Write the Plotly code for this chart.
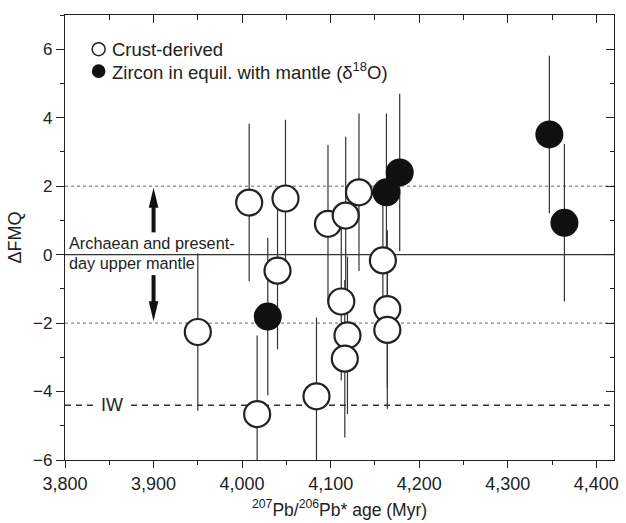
import plotly.graph_objects as go

# ---------------- data ----------------
crust_age = [4008, 4049, 4040, 3950, 4017, 4084, 4097, 4117, 4132,
             4159, 4112, 4119, 4116, 4164, 4164]
crust_fmq = [1.52, 1.64, -0.47, -2.26, -4.66, -4.14, 0.90, 1.14, 1.82,
             -0.17, -1.37, -2.36, -3.04, -1.59, -2.20]
crust_err = [2.3] * 15

mantle_age = [4029, 4163, 4178, 4347, 4364]
mantle_fmq = [-1.81, 1.82, 2.40, 3.51, 0.93]
mantle_err = [2.3] * 5

x_ticks = [3800, 3900, 4000, 4100, 4200, 4300, 4400]
x_tick_labels = ["3,800", "3,900", "4,000", "4,100", "4,200", "4,300", "4,400"]
y_ticks = [-6, -4, -2, 0, 2, 4, 6]
x_range = [3800, 4420]
y_range = [-6, 7]

ref_levels = [2, -2]        # dotted band of present-day mantle
mantle_level = 0
iw_level = -4.4
arrow_x = 3900
arrow_up = [0.65, 1.95]
arrow_down = [-0.6, -1.95]

INK = "#222222"
FONT = "Liberation Sans, Arial, sans-serif"

fig = go.Figure()

# error bars (drawn first, under the circles)
all_age = crust_age + mantle_age
all_fmq = crust_fmq + mantle_fmq
all_err = crust_err + mantle_err
fig.add_trace(go.Scatter(
    x=all_age, y=all_fmq, mode="markers",
    marker=dict(size=1, color="rgba(0,0,0,0)"),
    error_y=dict(type="data", array=all_err, visible=True,
                 color="#333333", thickness=1.2, width=0),
    showlegend=False, hoverinfo="skip"))

fig.add_trace(go.Scatter(
    x=crust_age, y=crust_fmq, mode="markers", name="Crust-derived",
    marker=dict(size=26, color="white", line=dict(color=INK, width=2.2)),
    showlegend=False))
fig.add_trace(go.Scatter(
    x=mantle_age, y=mantle_fmq, mode="markers",
    name="Zircon in equil. with mantle",
    marker=dict(size=28, color="#111111", line=dict(color="#111111", width=0)),
    showlegend=False))

# dummy trace for the mirrored axes
fig.add_trace(go.Scatter(x=[None], y=[None], xaxis="x2", yaxis="y2",
                         showlegend=False, hoverinfo="skip"))

shapes = []
for lv in ref_levels:
    shapes.append(dict(type="line", xref="paper", x0=0, x1=1, yref="y",
                       y0=lv, y1=lv, layer="below",
                       line=dict(color="#666666", width=1, dash="dot")))
shapes.append(dict(type="line", xref="paper", x0=0, x1=1, yref="y",
                   y0=mantle_level, y1=mantle_level, layer="below",
                   line=dict(color="#333333", width=1.4)))
shapes.append(dict(type="line", xref="paper", x0=0, x1=1, yref="y",
                   y0=iw_level, y1=iw_level, layer="below",
                   line=dict(color="#333333", width=1.3, dash="6px,5px")))

# arrows (shaft + pixel-sized head)
shapes.append(dict(type="line", xref="x", yref="y", x0=arrow_x, x1=arrow_x,
                   y0=arrow_up[0], y1=arrow_up[1] - 0.4,
                   line=dict(color="#111111", width=4)))
shapes.append(dict(type="path", xref="x", yref="y", xsizemode="pixel",
                   ysizemode="pixel", xanchor=arrow_x, yanchor=arrow_up[1],
                   path="M0,0 L-4.8,-20 L4.8,-20 Z",
                   fillcolor="#111111", line=dict(width=0)))
shapes.append(dict(type="line", xref="x", yref="y", x0=arrow_x, x1=arrow_x,
                   y0=arrow_down[0], y1=arrow_down[1] + 0.4,
                   line=dict(color="#111111", width=4)))
shapes.append(dict(type="path", xref="x", yref="y", xsizemode="pixel",
                   ysizemode="pixel", xanchor=arrow_x, yanchor=arrow_down[1],
                   path="M0,0 L-4.8,20 L4.8,20 Z",
                   fillcolor="#111111", line=dict(width=0)))

# legend symbols
shapes.append(dict(type="circle", xref="x", yref="y", xsizemode="pixel",
                   ysizemode="pixel", xanchor=3838, yanchor=6.0,
                   x0=-6.5, x1=6.5, y0=-6.5, y1=6.5,
                   fillcolor="white", line=dict(color=INK, width=1.5)))
shapes.append(dict(type="circle", xref="x", yref="y", xsizemode="pixel",
                   ysizemode="pixel", xanchor=3838, yanchor=5.36,
                   x0=-6.8, x1=6.8, y0=-6.8, y1=6.8,
                   fillcolor="#111111", line=dict(color="#111111", width=0)))

annotations = [
    dict(x=3851, y=6.0, xref="x", yref="y", text="Crust-derived",
         showarrow=False, xanchor="left", yanchor="middle",
         font=dict(size=18.5, color=INK, family=FONT)),
    dict(x=3851, y=5.36, xref="x", yref="y",
         text="Zircon in equil. with mantle (δ<sup>18</sup>O)",
         showarrow=False, xanchor="left", yanchor="middle",
         font=dict(size=18.5, color=INK, family=FONT)),
    dict(x=3802, y=0.33, xref="x", yref="y", text="Archaean and present-",
         showarrow=False, xanchor="left", yanchor="middle",
         font=dict(size=16.3, color=INK, family=FONT)),
    dict(x=3802, y=-0.25, xref="x", yref="y", text="day upper mantle",
         showarrow=False, xanchor="left", yanchor="middle",
         font=dict(size=16.3, color=INK, family=FONT)),
    dict(x=3853, y=iw_level, xref="x", yref="y", text="IW",
         showarrow=False, xanchor="center", yanchor="middle",
         bgcolor="white", borderpad=3,
         font=dict(size=18, color=INK, family=FONT)),
]

axis_common = dict(showline=True, linecolor=INK, linewidth=1.4,
                   showgrid=False, zeroline=False, tickcolor=INK,
                   tickwidth=1.4)

fig.update_layout(
    width=626, height=523,
    margin=dict(l=65, r=7, t=15, b=62),
    paper_bgcolor="white", plot_bgcolor="white",
    font=dict(family=FONT, color=INK, size=17),
    showlegend=False,
    shapes=shapes, annotations=annotations,
    xaxis=dict(range=x_range, tickvals=x_ticks, ticktext=x_tick_labels,
               ticks="outside", ticklen=7,
               minor=dict(dtick=50, tick0=3800, ticks="outside", ticklen=4,
                          tickcolor=INK, tickwidth=1.4),
               tickfont=dict(size=18, family=FONT, color=INK),
               title=dict(text="<sup>207</sup>Pb/<sup>206</sup>Pb* age (Myr)",
                          font=dict(size=17.5, family=FONT, color=INK),
                          standoff=10),
               **axis_common),
    yaxis=dict(range=y_range, tickvals=y_ticks,
               ticks="outside", ticklen=8,
               minor=dict(dtick=1, tick0=0, ticks="outside", ticklen=4,
                          tickcolor=INK, tickwidth=1.4),
               tickfont=dict(size=17, family=FONT, color=INK),
               title=dict(text="ΔFMQ",
                          font=dict(size=18, family=FONT, color=INK),
                          standoff=6),
               **axis_common),
    xaxis2=dict(range=x_range, overlaying="x", side="top", anchor="y2",
                tickvals=x_ticks, showticklabels=False,
                ticks="inside", ticklen=8,
                minor=dict(dtick=50, tick0=3800, ticks="inside", ticklen=5,
                           tickcolor=INK, tickwidth=1.4),
                **axis_common),
    yaxis2=dict(range=y_range, overlaying="y", side="right", anchor="x2",
                tickvals=y_ticks, showticklabels=False,
                ticks="inside", ticklen=8,
                minor=dict(dtick=1, tick0=0, ticks="inside", ticklen=4,
                           tickcolor=INK, tickwidth=1.4),
                **axis_common),
)

fig.write_html("out.html")
